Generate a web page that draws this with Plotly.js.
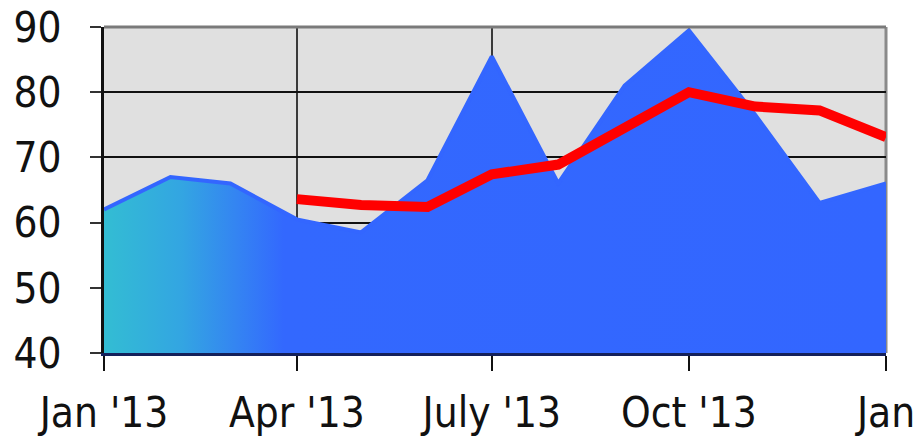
<!DOCTYPE html>
<html>
<head>
<meta charset="utf-8">
<script src="https://cdn.plot.ly/plotly-3.0.1.min.js"></script>
<style>
  html, body { margin: 0; padding: 0; background: #ffffff; }
  #chart { width: 920px; height: 441px; }
</style>
</head>
<body>
<div id="chart"></div>
<script>
// Monthly values
const months = ["2013-01-01","2013-02-01","2013-03-01","2013-04-01","2013-05-01","2013-06-01",
                "2013-07-01","2013-08-01","2013-09-01","2013-10-01","2013-11-01","2013-12-01","2014-01-01"];
const areaValues = [62, 67, 66, 60.5, 58.5, 66.5, 85.5, 66, 81, 89.5, 76.5, 63, 66];

const avgMonths = ["2013-04-01","2013-05-01","2013-06-01","2013-07-01","2013-08-01",
                   "2013-09-01","2013-10-01","2013-11-01","2013-12-01","2014-01-01"];
const avgValues = [63.6, 62.7, 62.4, 67.4, 68.9, 74.5, 80, 77.8, 77.2, 73.1];

const xTickVals = ["2013-01-01","2013-04-01","2013-07-01","2013-10-01","2014-01-01"];
const xTickText = ["Jan '13","Apr '13","July '13","Oct '13","Jan"];
const yTickVals = [40, 50, 60, 70, 80, 90];

const FONT = "DejaVu Sans Condensed, DejaVu Sans, sans-serif";

const traces = [
  {
    type: "scatter",
    mode: "lines",
    x: months,
    y: areaValues,
    fill: "tozeroy",
    fillgradient: {
      type: "horizontal",
      colorscale: [[0, "#33bdd3"], [0.1, "#33a5e2"], [0.17, "#3484f2"], [0.23, "#3368fe"], [1, "#3366ff"]]
    },
    line: { color: "#3366ff", width: 4 },
    hoverinfo: "x+y"
  },
  {
    type: "scatter",
    mode: "lines",
    x: avgMonths,
    y: avgValues,
    line: { color: "#ff0000", width: 10 },
    hoverinfo: "x+y"
  }
];

const layout = {
  width: 920,
  height: 441,
  margin: { l: 104, r: 34, t: 27, b: 88 },
  paper_bgcolor: "#ffffff",
  plot_bgcolor: "#e0e0e0",
  showlegend: false,
  font: { family: FONT, size: 42, color: "#111111" },
  xaxis: {
    type: "date",
    range: ["2013-01-01", "2014-01-01"],
    tickmode: "array",
    tickvals: xTickVals,
    ticktext: xTickText,
    showgrid: true,
    gridcolor: "#3a3a3a",
    gridwidth: 2,
    showline: true,
    linecolor: "#14205a",
    linewidth: 3,
    ticks: "outside",
    ticklen: 15,
    tickwidth: 2,
    tickcolor: "#111111",
    ticklabelstandoff: 6,
    tickfont: { family: FONT, size: 42, color: "#111111" },
    zeroline: false,
    fixedrange: true
  },
  yaxis: {
    range: [40, 90],
    tickmode: "array",
    tickvals: yTickVals,
    showgrid: true,
    gridcolor: "#111111",
    gridwidth: 2,
    showline: true,
    linecolor: "#111111",
    linewidth: 3,
    ticks: "outside",
    ticklen: 11,
    tickwidth: 2,
    tickcolor: "#333333",
    ticklabelstandoff: 20,
    tickfont: { family: FONT, size: 42, color: "#111111" },
    zeroline: false,
    fixedrange: true
  },
  shapes: [
    { type: "line", xref: "paper", yref: "paper", x0: 0, x1: 1, y0: 1, y1: 1,
      line: { color: "#7a7a7a", width: 3 }, layer: "above" },
    { type: "line", xref: "paper", yref: "paper", x0: 1, x1: 1, y0: 0, y1: 1,
      line: { color: "#8a8a8a", width: 3 }, layer: "below" }
  ]
};

Plotly.newPlot("chart", traces, layout, { displayModeBar: false, staticPlot: true });
</script>
</body>
</html>
